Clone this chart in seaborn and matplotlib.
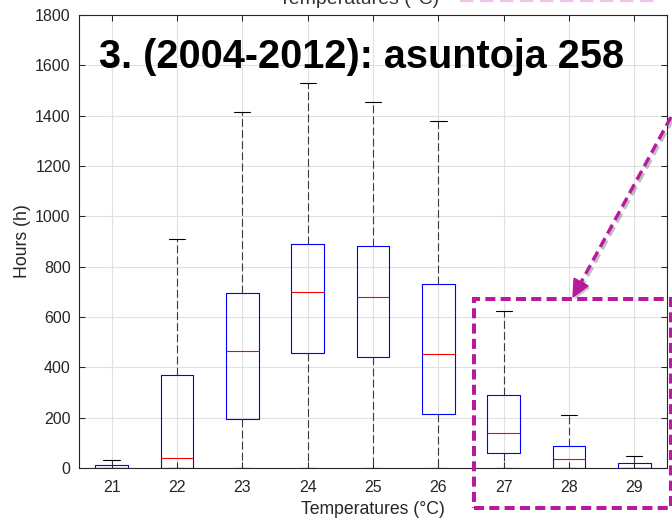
import numpy as np
import pandas as pd
import matplotlib
matplotlib.use("Agg")
import matplotlib.pyplot as plt
import seaborn as sns
from matplotlib.lines import Line2D
from matplotlib.patches import Rectangle, Polygon
import matplotlib.patheffects as pe

# ---- data (five-number summaries) ----
temperatures = ["21", "22", "23", "24", "25", "26", "27", "28", "29"]
whisker_low = [0, 0, 0, 0, 0, 0, 0, 0, 0]
q1 = [0, 0, 195, 455, 440, 215, 60, 0, 0]
median = [0, 40, 465, 700, 680, 453, 138, 36, 0]
q3 = [13, 370, 697, 890, 882, 732, 292, 88, 18]
whisker_high = [32, 910, 1415, 1530, 1453, 1378, 624, 209, 46]
y_ticks = [0, 200, 400, 600, 800, 1000, 1200, 1400, 1600, 1800]

title_text = "3. (2004-2012): asuntoja 258"
x_label = "Temperatures (°C)"
y_label = "Hours (h)"
top_cut_text = "Temperatures (°C)"

rows = []
for t, a, b, c, d, e in zip(temperatures, whisker_low, q1, median, q3, whisker_high):
    for v in (a, b, c, d, e):
        rows.append({"Temperature": t, "Hours": v})
df = pd.DataFrame(rows)

sns.set_style("ticks")
plt.rcParams["font.family"] = ["Liberation Sans", "DejaVu Sans"]

W, H = 672, 525
fig = plt.figure(figsize=(W / 100, H / 100), dpi=100)


def fx(x):
    return x / W


def fy(y):
    return 1 - y / H


ax = fig.add_axes([fx(79), fy(468), (667 - 79) / W, (468 - 15) / H])

sns.boxplot(
    data=df, x="Temperature", y="Hours", order=temperatures, ax=ax,
    fill=False, width=0.5, whis=(0, 100), showfliers=False, color="blue",
    linewidth=0.8,
    boxprops=dict(color="blue"),
    medianprops=dict(color="red"),
    whiskerprops=dict(color="#3a3a3a", linestyle=(0, (7, 3))),
    capprops=dict(color="black"),
)

ax.set_xlim(-0.5, len(temperatures) - 0.5)
ax.set_ylim(0, 1800)
ax.set_yticks(y_ticks)
ax.grid(True, color="#e0e0e0", linewidth=0.8)
ax.xaxis.grid(True)
ax.set_axisbelow(True)
ax.tick_params(direction="in", length=4.3, width=0.75, top=True, right=True,
               labelsize=11.5, labelcolor="#262626", color="#262626")
ax.tick_params(axis="x", pad=9)
ax.tick_params(axis="y", pad=6)
for s in ax.spines.values():
    s.set_visible(True)
    s.set_color("#262626")
    s.set_linewidth(0.8)

ax.set_xlabel(x_label, fontsize=12.7, color="#262626", labelpad=4)
ax.set_ylabel(y_label, fontsize=12.7, color="#262626", labelpad=3)

fig.text(fx(361.5), fy(68), title_text, fontsize=28.5, fontweight="bold",
         ha="center", va="baseline", color="black")

# cut-off text and pink dashes from the figure above
fig.text(fx(359), fy(3.5), top_cut_text, fontsize=14, ha="center",
         va="baseline", color="#333333")
fig.add_artist(Line2D([fx(460), fx(658)], [fy(1), fy(1)], color="#f2c2e8",
                      lw=1.6, linestyle=(0, (6, 3))))

mag = "#b8199f"
shadow = [pe.SimpleLineShadow(offset=(1.5, -1.5), alpha=0.25), pe.Normal()]
# dashed highlight rectangle
fig.add_artist(Rectangle((fx(474), fy(508)), (671 - 474) / W, (508 - 299) / H,
                         fill=False, edgecolor=mag, lw=2.9,
                         linestyle=(0, (2.5, 1.3)), clip_on=False))

# dashed arrow
sx, sy = 671, 117
tx, ty = 573, 297
L, hw = 17, 8
d = np.array([tx - sx, ty - sy], dtype=float)
u = d / np.linalg.norm(d)
n = np.array([-u[1], u[0]])
bx, by = np.array([tx, ty]) - L * u
fig.add_artist(Line2D([fx(sx), fx(bx)], [fy(sy), fy(by)], color=mag, lw=2.4,
                      linestyle=(0, (3, 1.6)), path_effects=shadow))
c1 = np.array([bx, by]) + hw * n
c2 = np.array([bx, by]) - hw * n
fig.add_artist(Polygon([[fx(tx), fy(ty)], [fx(c1[0]), fy(c1[1])],
                        [fx(c2[0]), fy(c2[1])]], closed=True, color=mag,
                       path_effects=[pe.SimplePatchShadow(offset=(1.5, -1.5), alpha=0.25), pe.Normal()]))

fig.savefig("out.png", dpi=100)
